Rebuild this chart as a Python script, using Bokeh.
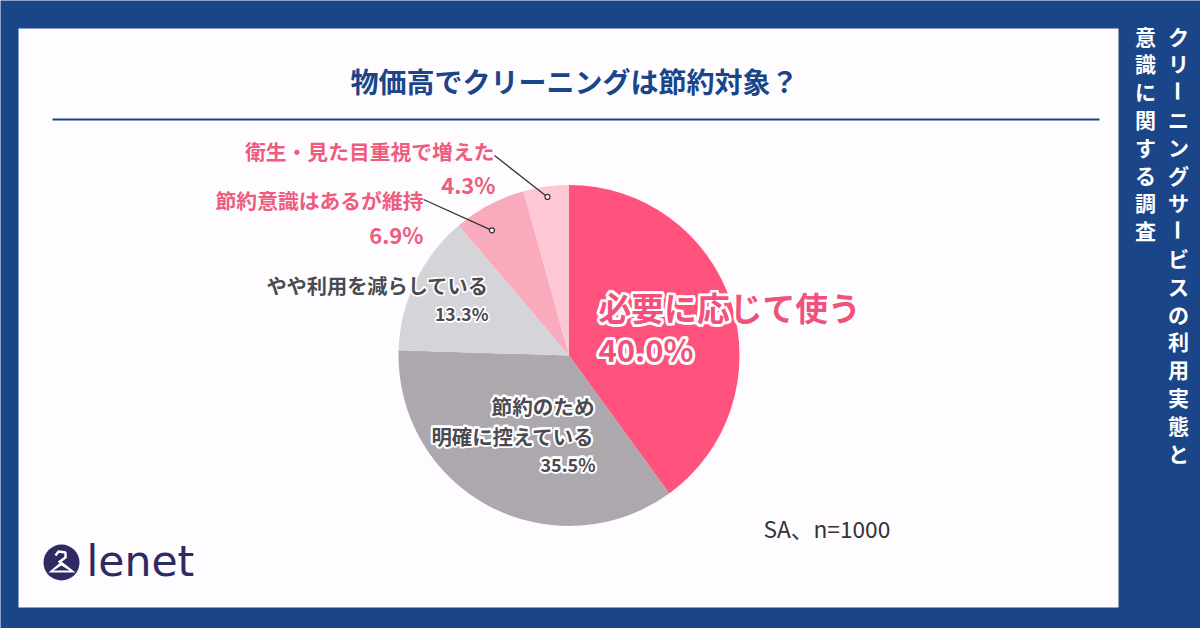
import math
from bokeh.plotting import figure
from bokeh.models import ColumnDataSource, Range1d
from bokeh.core.properties import value
from bokeh.embed import file_html
from bokeh.resources import INLINE

categories = ["必要に応じて使う", "節約のため明確に控えている", "やや利用を減らしている", "節約意識はあるが維持", "衛生・見た目重視で増えた"]
shares = [40.0, 35.5, 13.3, 6.9, 4.3]
slice_colors = ["#ff527c", "#aca8ad", "#d5d5d9", "#f9aabd", "#fdc7d3"]
title_text = "物価高でクリーニングは節約対象？"
side_right = "クリーニングサービスの利用実態と"
side_left = "意識に関する調査"
note_text = "SA、n=1000"
logo_text = "lenet"

W, H = 1200, 628
BLUE = "#1a4589"
PINK = "#ee5c80"
GREY = "#4a4a50"
FONT = value("Noto Sans CJK JP")
CX, CY, R = 568.5, 355, 170.5


def Y(py):
    return H - py


p = figure(width=W, height=H, x_range=Range1d(0, W), y_range=Range1d(0, H),
           x_axis_type=None, y_axis_type=None, toolbar_location=None,
           output_backend="svg", min_border=0, outline_line_color=None,
           background_fill_color=BLUE, border_fill_color=BLUE,
           styles={"position": "absolute", "left": "0px", "top": "0px"})
p.grid.visible = False

# panel
p.quad(left=[18], right=[1118], top=[Y(28)], bottom=[Y(607)],
       fill_color="#fefcfe", line_color=None)
p.line([52, 1099], [Y(119), Y(119)], line_color=BLUE, line_width=2)

# pie
cum, starts, ends = 0.0, [], []
for v in shares:
    starts.append(math.pi / 2 - cum / 100 * 2 * math.pi)
    cum += v
    ends.append(math.pi / 2 - cum / 100 * 2 * math.pi)
src = ColumnDataSource(dict(cat=categories, share=shares, start=starts, end=ends,
                            color=slice_colors, x=[CX] * 5, y=[Y(CY)] * 5))
p.wedge(x="x", y="y", radius=R, start_angle="start", end_angle="end",
        direction="clock", fill_color="color", line_color=None, source=src)


def txt(s, x, py, size, color, align="right", style="bold", halo=0, font=FONT, angle=0):
    common = dict(text_font=font, text_font_size=f"{size}px", text_align=align,
                  text_baseline="middle", text_font_style=style, angle=angle)
    if halo:
        dirs = [(math.cos(k * math.pi / 4) * halo, math.sin(k * math.pi / 4) * halo) for k in range(8)]
        p.text(x=[x] * 8, y=[Y(py)] * 8, text=[s] * 8, x_offset=[d[0] for d in dirs],
               y_offset=[d[1] for d in dirs], text_color="#ffffff",
               text_outline_color="#ffffff", **common)
    p.text(x=[x], y=[Y(py)], text=[s], text_color=color, **common)


# leaders: from label end to a dot inside the slice
def anchor(i, frac, rad):
    a = (sum(shares[:i]) + frac * shares[i]) / 100 * 2 * math.pi
    return CX + rad * math.sin(a), Y(CY) + rad * math.cos(a)


ax1, ay1 = anchor(4, 0.5, 160)
ax2, ay2 = anchor(3, 0.35, 147)
p.line([494, ax1], [Y(155), ay1], line_color="#333333", line_width=1.3)
p.line([423, ax2], [Y(199), ay2], line_color="#333333", line_width=1.3)
p.scatter([ax1, ax2], [ay1, ay2], size=5, fill_color="#fdeef2",
          line_color="#333333", line_width=1.2)

# title
txt(title_text, 574, 80, 28, BLUE, align="center")

# labels
txt(categories[4], 494, 150, 20.8, PINK)
txt(f"{shares[4]}%", 495, 183, 22, PINK)
txt(categories[3], 423, 199, 20.8, PINK)
txt(f"{shares[3]}%", 423, 233, 22, PINK)
txt(categories[2], 488, 285, 20.2, GREY, halo=1)
txt(f"{shares[2]}%", 488, 313, 17.5, GREY, halo=1)
txt("節約のため", 594, 405, 20.6, GREY, halo=1.5)
txt("明確に控えている", 594, 435, 20.4, GREY, halo=1.5)
txt(f"{shares[1]}%", 595, 463, 18, GREY, halo=1.5)
txt(categories[0], 598, 306, 32.8, "#f0527d", halo=2.2, align="left")
txt(f"{shares[0]:.1f}%", 598, 348, 31, "#f0527d", halo=2.2, align="left")

# note
txt(note_text, 763, 528, 22.7, "#333333", align="left", style="normal")

# vertical side headings, one character per cell
for col, line in ((1178, side_right), (1145, side_left)):
    for i, ch in enumerate(line):
        ang = -math.pi / 2 if ch == "ー" else 0
        txt(ch, col, 35 + i * 27.8, 21, "#ffffff", align="center", style="bold", angle=ang)

# logo
LOGO = "#2f2a63"
p.scatter([61], [Y(562)], size=36, fill_color=LOGO, line_color=None)
p.multi_line(xs=[[55, 58, 65, 65, 58]], ys=[[Y(v) for v in [555, 551, 552, 557, 562]]],
             line_color="#ffffff", line_width=2.5)
p.patch([61, 48, 75], [Y(561), Y(572), Y(572)], fill_color="#ffffff", line_color=None)
p.patch([61, 53, 69], [Y(565), Y(570), Y(570)], fill_color=LOGO, line_color=None)
txt(logo_text, 86, 561, 42.5, LOGO, align="left", style="normal", font=value("DejaVu Sans"))

open("out.html", "w").write(file_html(p, INLINE))
